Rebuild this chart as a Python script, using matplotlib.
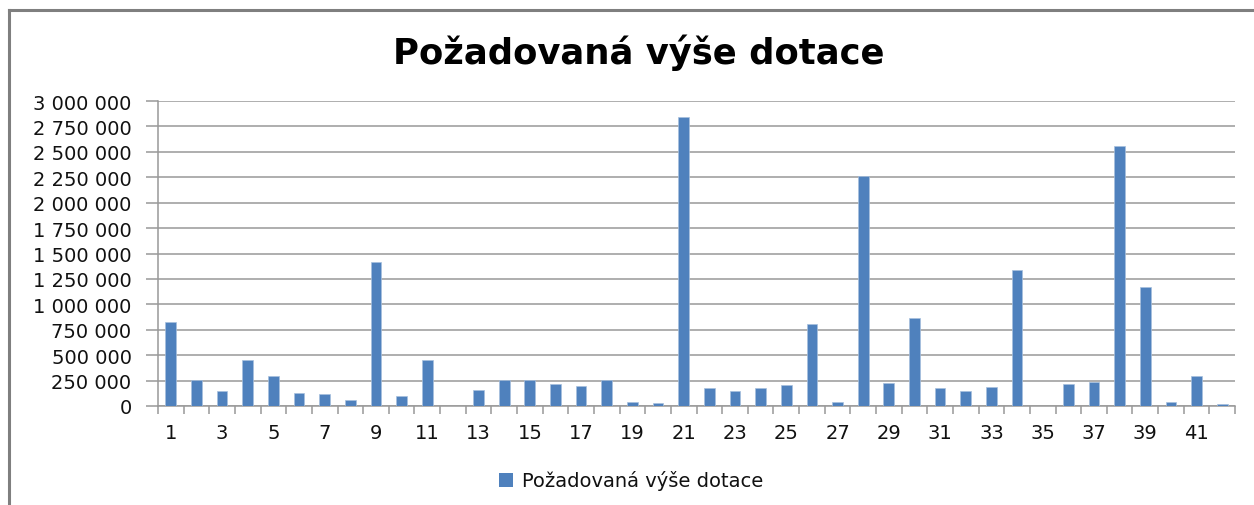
import numpy as np
import matplotlib.pyplot as plt
from matplotlib.ticker import FuncFormatter, MultipleLocator
from matplotlib.patches import Rectangle
from matplotlib.lines import Line2D

# requested subsidy per application (CZK)
ids = list(range(1, 43))
amounts = [822000, 256000, 147000, 455000, 292000, 128000, 118000, 56000, 1416000, 98000,
           455000, 0, 157000, 256000, 256000, 219000, 200000, 256000, 36000, 26000,
           2840000, 177000, 147000, 177000, 210000, 803000, 36000, 2260000, 226000, 862000,
           177000, 147000, 187000, 1337000, 0, 216000, 239000, 2557000, 1170000, 42000,
           298000, 23000]
series_name = "Požadovaná výše dotace"
title = "Požadovaná výše dotace"

bar_col = "#4F81BD"
grid_col = "#999999"
plt.rcParams['font.family'] = ['DejaVu Sans']

fig = plt.figure(figsize=(12.54, 5.06), dpi=100)
ax = fig.add_axes([158/1254, 1-407/506, (1235-158)/1254, (407-102)/506])

x = np.arange(len(ids))
ax.bar(x, amounts, width=0.42, color=bar_col, edgecolor="#A7C0DE", linewidth=0.5, zorder=3)

ax.set_xlim(-0.5, len(ids)-0.5)
ax.set_ylim(0, 3000000)
ax.yaxis.set_major_locator(MultipleLocator(250000))
ax.yaxis.set_major_formatter(FuncFormatter(lambda v, p: "{:,}".format(int(v)).replace(",", " ")))
ax.grid(axis="y", color=grid_col, linewidth=1.1, zorder=0)

# tick marks at category boundaries, labels under every second bar
ax.set_xticks(np.arange(-0.5, len(ids)), minor=False)
ax.set_xticklabels([])
ax.set_xticks(x[::2], minor=True)
ax.set_xticklabels([str(i) for i in ids[::2]], minor=True)
ax.tick_params(axis="x", which="major", length=6, color=grid_col, width=1.1)
ax.tick_params(axis="x", which="minor", length=0, pad=12, labelsize=14, labelcolor="#111111")
ax.tick_params(axis="y", length=9, color=grid_col, width=1.1, pad=10, labelsize=14, labelcolor="#111111")

for s in ["top", "right"]:
    ax.spines[s].set_visible(False)
for s in ["left", "bottom"]:
    ax.spines[s].set_color(grid_col)
    ax.spines[s].set_linewidth(1.1)

fig.text(639/1254, 1-53/506, title, ha="center", va="center", fontsize=25.5, fontweight="bold", color="#000000")

# legend
fig.patches.append(Rectangle((499/1254, 1-488/506), 14/1254, 14/506, transform=fig.transFigure,
                             facecolor=bar_col, edgecolor="none"))
fig.text(522/1254, 1-481/506, series_name, ha="left", va="center", fontsize=14, color="#111111")

# outer chart border (runs off the right and bottom edge)
fig.add_artist(Line2D([9/1254, 9/1254], [0, 1-11/506], transform=fig.transFigure, color="#7F7F7F", linewidth=2.2))
fig.add_artist(Line2D([9/1254, 1], [1-11/506, 1-11/506], transform=fig.transFigure, color="#7F7F7F", linewidth=2.2))

fig.savefig("out.png", dpi=100)
